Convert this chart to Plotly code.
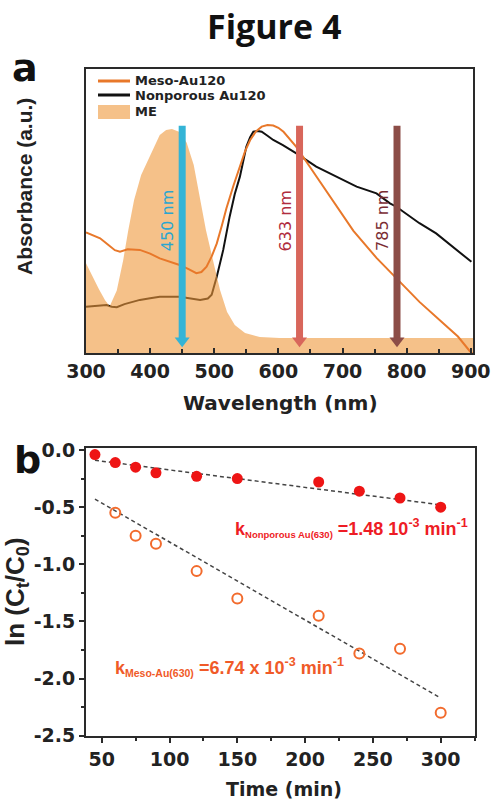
import plotly.graph_objects as go

W, H = 491, 802

# ---------------- Panel a data ----------------
me_nm = [300, 310, 320, 330, 337, 348, 358, 366, 375, 386, 397, 408, 415, 425, 434, 446, 457, 468,
         478, 487, 498, 509, 520, 532, 548, 571, 602, 700, 800, 904]
me_abs = [0.316, 0.27, 0.225, 0.185, 0.165, 0.22, 0.327, 0.433, 0.539, 0.627, 0.68, 0.732, 0.768,
          0.785, 0.789, 0.778, 0.74, 0.662, 0.539, 0.433, 0.327, 0.222, 0.144, 0.099, 0.07, 0.056,
          0.053, 0.053, 0.053, 0.053]

meso_nm = [300, 310, 322, 335, 345, 353, 365, 384, 400, 415, 430, 446, 460, 472, 480, 488, 496, 504,
           512, 519, 530, 540, 548, 556, 565, 574, 583, 592, 600, 608, 628, 649, 670, 690, 717, 753,
           784, 820, 857, 880, 898, 904]
meso_abs = [0.425, 0.415, 0.404, 0.38, 0.362, 0.357, 0.365, 0.363, 0.35, 0.333, 0.322, 0.31, 0.295,
            0.281, 0.285, 0.304, 0.34, 0.386, 0.45, 0.51, 0.59, 0.656, 0.71, 0.75, 0.78, 0.797, 0.803,
            0.801, 0.793, 0.779, 0.726, 0.656, 0.586, 0.52, 0.43, 0.335, 0.262, 0.18, 0.105, 0.058,
            0.008, -0.005]

nonp_nm = [300, 315, 332, 340, 348, 360, 384, 400, 415, 446, 465, 478, 490, 496, 504, 514, 524, 532,
           540, 550, 556, 561, 568, 574, 583, 592, 607, 628, 659, 691, 722, 753, 774, 784, 820, 846,
           872, 901]
nonp_abs = [0.163, 0.165, 0.169, 0.163, 0.161, 0.172, 0.187, 0.193, 0.198, 0.198, 0.193, 0.187, 0.192,
            0.205, 0.269, 0.363, 0.48, 0.56, 0.621, 0.726, 0.76, 0.779, 0.782, 0.779, 0.765, 0.75,
            0.732, 0.703, 0.656, 0.621, 0.586, 0.562, 0.527, 0.515, 0.457, 0.421, 0.374, 0.321]

laser_nm = [450, 633, 785]
laser_labels = ["450 nm", "633 nm", "785 nm"]
laser_colors = ["#34B4D6", "#D8665B", "#8C4D47"]
laser_text_colors = ["#2AA6D0", "#B02C3E", "#7A2C33"]
arrow_top = 0.80
arrow_tip = 0.018

wl_ticks = [300, 400, 500, 600, 700, 800, 900]

# ---------------- Panel b data ----------------
time_np = [45, 60, 75, 90, 120, 150, 210, 240, 270, 300]
lnc_np = [-0.04, -0.11, -0.15, -0.20, -0.23, -0.25, -0.28, -0.36, -0.42, -0.50]
time_meso = [60, 75, 90, 120, 150, 210, 240, 270, 300]
lnc_meso = [-0.55, -0.75, -0.82, -1.06, -1.30, -1.45, -1.78, -1.74, -2.30]
fit_t = [45, 300]
fit_np = [-0.09, -0.48]
fit_meso = [-0.43, -2.17]

time_ticks = [50, 100, 150, 200, 250, 300]
ln_tickvals = [0.0, -0.5, -1.0, -1.5, -2.0, -2.5]
ln_ticktext = ["0.0", "-0.5", "-1.0", "-1.5", "-2.0", "-2.5"]


def px(x):
    return x / W


def py(y):
    return 1 - y / H


BOLD = "DejaVu Sans"
ARIAL = "Liberation Sans"

fig = go.Figure()

# panel a curves
fig.add_trace(go.Scatter(x=nonp_nm, y=nonp_abs, mode="lines", line=dict(color="#111111", width=2),
                         showlegend=False, xaxis="x", yaxis="y"))
fig.add_trace(go.Scatter(x=me_nm, y=me_abs, mode="lines", line=dict(width=0), fill="tozeroy",
                         fillcolor="rgba(238,152,58,0.6)", showlegend=False, xaxis="x", yaxis="y"))
fig.add_trace(go.Scatter(x=meso_nm, y=meso_abs, mode="lines", line=dict(color="#E8782A", width=2),
                         showlegend=False, xaxis="x", yaxis="y"))

head_center = arrow_tip + 0.025
for nm, col in zip(laser_nm, laser_colors):
    fig.add_trace(go.Scatter(x=[nm, nm], y=[arrow_top, head_center], mode="lines",
                             line=dict(color=col, width=7), showlegend=False, xaxis="x", yaxis="y"))
    fig.add_trace(go.Scatter(x=[nm], y=[head_center], mode="markers",
                             marker=dict(symbol="triangle-down", size=13, color=col, line=dict(width=0)),
                             showlegend=False, xaxis="x", yaxis="y"))

# panel b
fig.add_trace(go.Scatter(x=fit_t, y=fit_np, mode="lines", line=dict(color="#444444", width=1.5, dash="4px,3px"),
                         showlegend=False, xaxis="x2", yaxis="y2"))
fig.add_trace(go.Scatter(x=fit_t, y=fit_meso, mode="lines", line=dict(color="#444444", width=1.5, dash="4px,3px"),
                         showlegend=False, xaxis="x2", yaxis="y2"))
fig.add_trace(go.Scatter(x=time_np, y=lnc_np, mode="markers",
                         marker=dict(symbol="circle", size=11, color="#EE1515", line=dict(width=0)),
                         showlegend=False, xaxis="x2", yaxis="y2"))
fig.add_trace(go.Scatter(x=time_meso, y=lnc_meso, mode="markers",
                         marker=dict(symbol="circle-open", size=10, color="#F26B2D", line=dict(width=2)),
                         showlegend=False, xaxis="x2", yaxis="y2"))

axis_common = dict(showline=True, mirror=True, linewidth=2, linecolor="#2a2a2a", showgrid=False,
                   zeroline=False, automargin=False,
                   tickfont=dict(family=BOLD, size=19, color="#222222", weight="bold"),
                   tickcolor="#2a2a2a", tickwidth=1.5)

fig.update_layout(
    template="none",
    width=W, height=H, autosize=False,
    margin=dict(l=0, r=0, t=0, b=0, pad=0),
    paper_bgcolor="white", plot_bgcolor="white",
    showlegend=False,
    xaxis=dict(domain=[px(86), px(473)], range=[300, 903.5], anchor="y",
               tickmode="array", tickvals=wl_ticks, ticks="inside", ticklen=5,
               minor=dict(ticks="inside", ticklen=4, dtick=50, tick0=300, tickcolor="#2a2a2a"),
               **axis_common),
    yaxis=dict(domain=[py(353), py(69)], range=[0, 1], anchor="x", showticklabels=False, ticks="",
               **{k: v for k, v in axis_common.items() if k not in ("tickfont",)}),
    xaxis2=dict(domain=[px(86), px(475)], range=[38.4, 325.3], anchor="y2",
                tickmode="array", tickvals=time_ticks, ticks="outside", ticklen=5,
                minor=dict(ticks="outside", ticklen=3, dtick=25, tick0=0, tickcolor="#2a2a2a"),
                **axis_common),
    yaxis2=dict(domain=[py(736), py(448)], range=[-2.503, 0.0175], anchor="x2",
                tickmode="array", tickvals=ln_tickvals, ticktext=ln_ticktext, ticks="outside", ticklen=5,
                minor=dict(ticks="outside", ticklen=3, dtick=0.25, tick0=0, tickcolor="#2a2a2a"),
                **axis_common),
)

ann = []
# title and panel letters
ann.append(dict(text="<b>Figure 4</b>", x=px(274), y=py(26), font=dict(family="Open Sans", size=34, color="#111")))
ann.append(dict(text="<b>a</b>", x=px(25), y=py(68), font=dict(family=BOLD, size=38, color="#111")))
ann.append(dict(text="<b>b</b>", x=px(27), y=py(460), font=dict(family=BOLD, size=38, color="#111")))
# axis titles
ann.append(dict(text="<b>Wavelength (nm)</b>", x=px(280), y=py(403), font=dict(family=BOLD, size=20, color="#222")))
ann.append(dict(text="<b>Absorbance (a.u.)</b>", x=px(25), y=py(187), textangle=-90,
                font=dict(family=ARIAL, size=21, color="#222")))
ann.append(dict(text="<b>Time (min)</b>", x=px(284), y=py(789), font=dict(family=BOLD, size=19, color="#222")))
ann.append(dict(text="<b>ln (C<sub>t</sub>/C<sub>0</sub>)</b>", x=px(16), y=py(592), textangle=-90,
                font=dict(family=ARIAL, size=26, color="#222")))
# laser labels
for nm, lab, col in zip(laser_nm, laser_labels, laser_text_colors):
    ann.append(dict(text=lab, x=nm, y=0.465, xref="x", yref="y", xshift=-14, textangle=-90,
                    font=dict(family="DejaVu Sans", size=16, color=col)))
# rate constants
ann.append(dict(text='<b>k<sub><span style="font-size:9.5px">Nonporous Au(630)</span></sub> =1.48 10<sup>-3</sup> min<sup>-1</sup></b>',
                x=px(233), y=py(528), xanchor="left", font=dict(family=ARIAL, size=18, color="#EE1C25")))
ann.append(dict(text='<b>k<sub><span style="font-size:10.5px">Meso-Au(630)</span></sub> =6.74 x 10<sup>-3</sup> min<sup>-1</sup></b>',
                x=px(113), y=py(667), xanchor="left", font=dict(family=ARIAL, size=18, color="#F05A28")))
# legend text
leg_y = [81, 95, 112]
leg_names = ["Meso-Au120", "Nonporous Au120", "ME"]
for yy, name in zip(leg_y, leg_names):
    ann.append(dict(text="<b>" + name + "</b>", x=px(133), y=py(yy), xanchor="left",
                    font=dict(family=BOLD, size=13, color="#222")))

for a in ann:
    a.setdefault("xref", "paper")
    a.setdefault("yref", "paper")
    a.setdefault("xanchor", "center")
    a.setdefault("yanchor", "middle")
    a["showarrow"] = False
fig.update_layout(annotations=ann)

# legend swatches
shapes = [
    dict(type="line", xref="paper", yref="paper", x0=px(98), x1=px(130), y0=py(81), y1=py(81),
         line=dict(color="#E8782A", width=3)),
    dict(type="line", xref="paper", yref="paper", x0=px(98), x1=px(130), y0=py(95), y1=py(95),
         line=dict(color="#111111", width=3)),
    dict(type="rect", xref="paper", yref="paper", x0=px(98), x1=px(130), y0=py(119), y1=py(105),
         fillcolor="rgba(238,152,58,0.6)", line=dict(width=0)),
]
fig.update_layout(shapes=shapes)

fig.write_html("out.html", config={"displayModeBar": False},
               post_script="document.body.style.margin='0px';document.body.style.overflow='hidden';")
